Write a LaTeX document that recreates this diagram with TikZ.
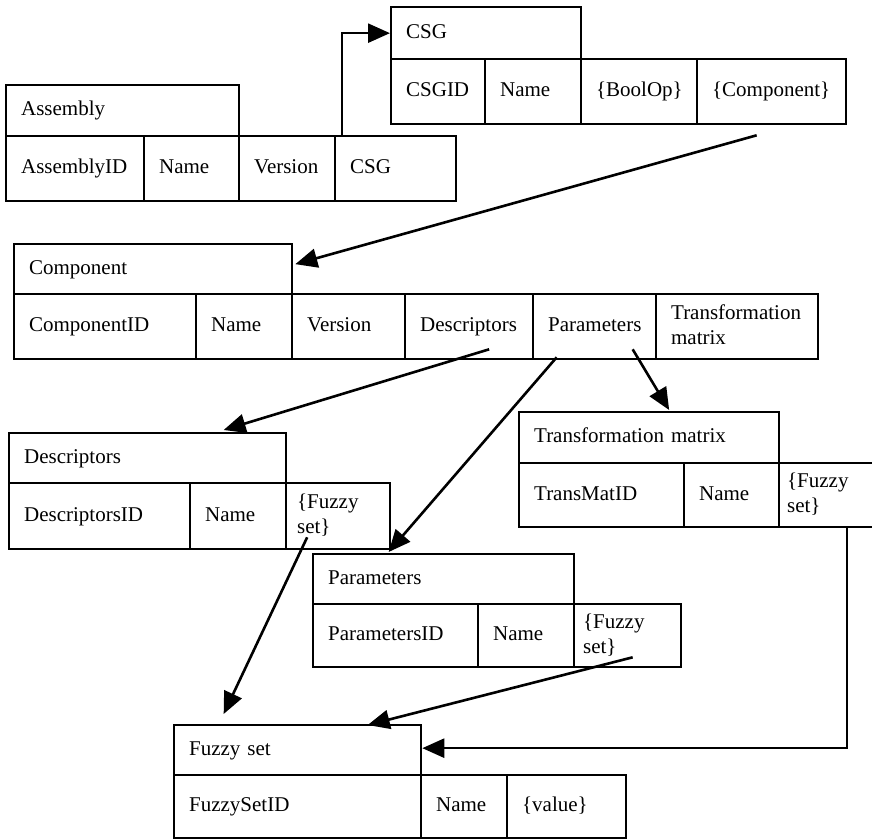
\documentclass[tikz,border=0pt]{standalone}
\usepackage{fontspec}
\setmainfont{Liberation Serif}
\usetikzlibrary{arrows.meta,calc}
\newcommand{\cellfont}{\fontsize{21}{25}\selectfont}
\newcommand{\tcell}[7][15]{%
  \pgfmathsetmacro\cw{#5-#3}%
  \pgfmathsetmacro\chh{#6-#4}%
  \pgfmathsetmacro\tw{#5-#3-2*#1}%
  \node[cell, inner xsep=#1pt, minimum width=\cw pt, minimum height=\chh pt, text width=\tw pt] (#2) at (#3,#4) {#7};}
\tikzset{
  cell/.style={draw, line width=2.3pt, anchor=north west, inner ysep=0pt, align=left, font=\cellfont,
    execute at begin node=\strut, execute at end node=\strut},
  conn/.style={line width=2.6pt, -{Triangle[length=22pt,width=19pt]}},
}
\begin{document}
\begin{tikzpicture}[x=1pt,y=-1pt]
\useasboundingbox (0,0) rectangle (872,839);
% Assembly
\tcell{ah}{5}{84}{238}{135}{Assembly}
\tcell{aid}{5}{135}{143}{200}{AssemblyID}
\tcell{aname}{143}{135}{238}{200}{Name}
\tcell{aver}{238}{135}{334}{200}{Version}
\tcell{acsg}{334}{135}{455}{200}{CSG}
% CSG
\tcell{ch}{390}{6}{580}{58}{CSG}
\tcell{cid}{390}{58}{484}{123}{CSGID}
\tcell{cname}{484}{58}{580}{123}{Name}
\tcell{cbool}{580}{58}{696}{123}{\{BoolOp\}}
\tcell{ccomp}{696}{58}{845}{123}{\{Component\}}
% Component
\tcell{mh}{13}{243}{291}{293}{Component}
\tcell{mid}{13}{293}{195}{358}{ComponentID}
\tcell{mname}{195}{293}{291}{358}{Name}
\tcell{mver}{291}{293}{404}{358}{Version}
\tcell{mdesc}{404}{293}{532}{358}{Descriptors}
\tcell{mpar}{532}{293}{655}{358}{Parameters}
\tcell{mtm}{655}{293}{817}{358}{Transformation\\matrix}
% Descriptors
\tcell{dh}{8}{432}{285}{482}{Descriptors}
\tcell{did}{8}{482}{189}{548}{DescriptorsID}
\tcell{dname}{189}{482}{285}{548}{Name}
\tcell[11]{dfz}{285}{482}{389}{548}{\{Fuzzy\\set\}}
% Transformation matrix
\tcell{th}{518}{411}{778}{462}{Transformation matrix}
\tcell{tid}{518}{462}{683}{526}{TransMatID}
\tcell{tname}{683}{462}{778}{526}{Name}
\tcell[8]{tfz}{778}{462}{874}{526}{\{Fuzzy\\set\}}
% Parameters
\tcell{ph}{312}{553}{573}{603}{Parameters}
\tcell{pid}{312}{603}{477}{666}{ParametersID}
\tcell{pname}{477}{603}{573}{666}{Name}
\tcell[9]{pfz}{573}{603}{680}{666}{\{Fuzzy\\set\}}
% Fuzzy set
\tcell{fh}{173}{724}{420}{774}{Fuzzy set}
\tcell{fid}{173}{774}{420}{837}{FuzzySetID}
\tcell{fname}{420}{774}{506}{837}{Name}
\tcell{fval}{506}{774}{625}{837}{\{value\}}
% connectors
\draw[conn] ($(acsg.north west)+(8,0)$) |- (ch.west);
\draw[conn] ($(ccomp.south)+(-15,10)$) -- ($(mh.east)+(2,-5)$);
\draw[conn] ($(mdesc.south)+(20,-11)$) -- ($(dh.north)+(76,-2)$);
\draw[conn] ($(mpar.south)+(-38,-3)$) -- ($(ph.north)+(-55,-1)$);
\draw[conn] ($(mpar.south)+(38,-11)$) -- ($(th.north)+(20,-1)$);
\draw[conn] ($(dfz.south)+(-31,-13)$) -- ($(fh.north)+(-74,-10)$);
\draw[conn] ($(pfz.south)+(5,-11)$) -- ($(fh.north)+(70,1)$);
\draw[conn] ($(tfz.south west)+(69,0)$) |- ($(fh.east)+(0,-2)$);
\end{tikzpicture}
\end{document}
